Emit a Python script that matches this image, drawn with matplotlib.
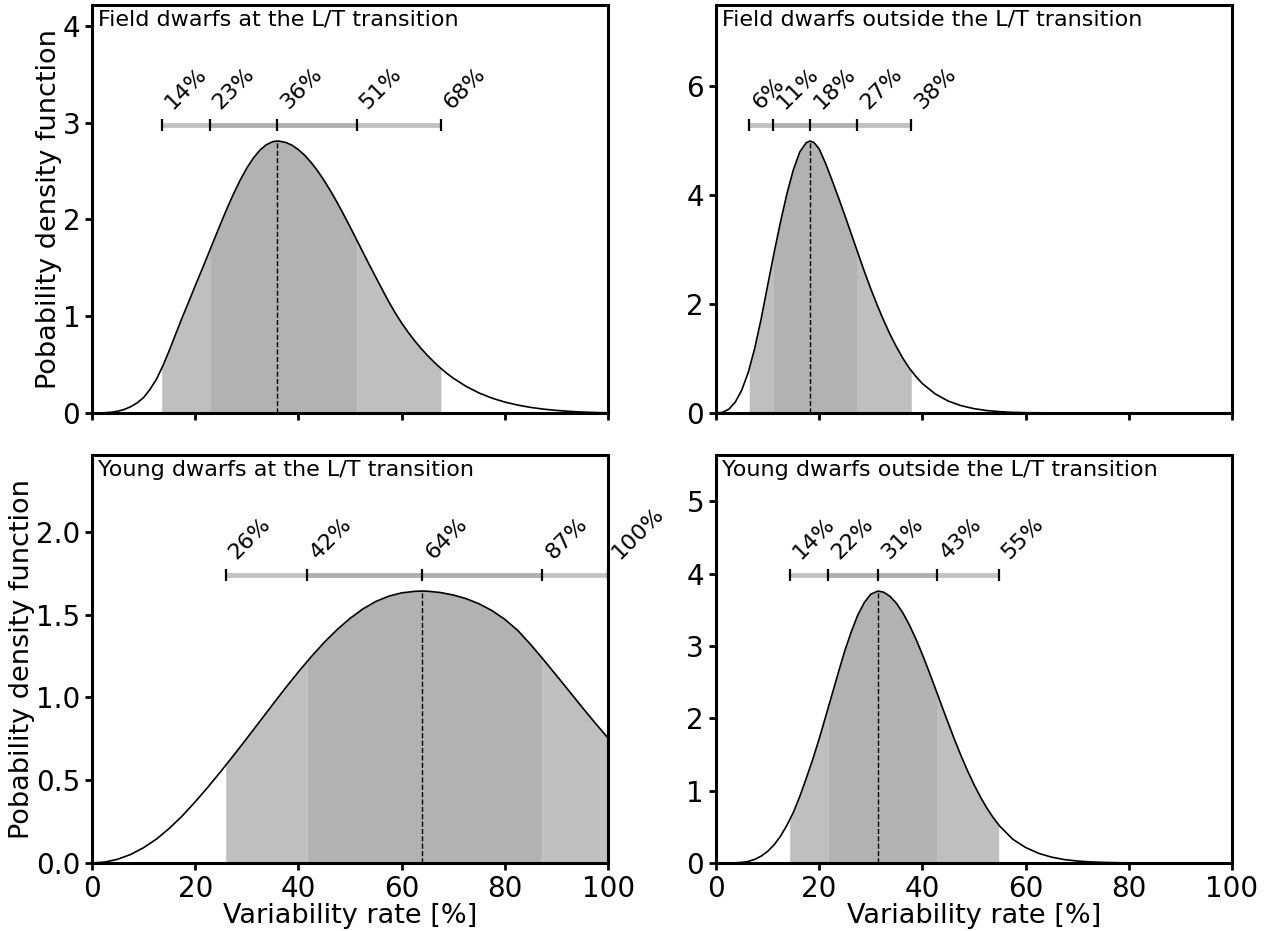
import numpy as np
import matplotlib
matplotlib.use("Agg")
import matplotlib.pyplot as plt
from matplotlib.transforms import offset_copy

# ---------------- data ----------------
titles = ["Field dwarfs at the L/T transition",
          "Field dwarfs outside the L/T transition",
          "Young dwarfs at the L/T transition",
          "Young dwarfs outside the L/T transition"]

# Field dwarfs at the L/T transition
x_fl = [0, 1.25, 2.5, 3.75, 5, 6.25, 7.5, 8.75, 10, 11.25, 12.5, 13.75, 15, 16.25,
        17.5, 18.75, 20, 21.25, 22.5, 23.75, 25, 26.25, 27.5, 28.75, 30, 31.25,
        32.5, 33.75, 35, 35.9, 36.25, 37.5, 38.75, 40, 41.25, 42.5, 43.75, 45,
        46.25, 47.5, 48.75, 50, 51.25, 52.5, 53.75, 55, 56.25, 57.5, 58.75, 60,
        61.25, 62.5, 63.75, 65, 66.25, 67.5, 68.75, 70, 72.5, 75, 77.5, 80, 82.5,
        85, 87.5, 90, 92.5, 95, 97.5, 100]
pdf_fl = [0, 0.0007, 0.003, 0.008, 0.019, 0.037, 0.065, 0.105, 0.16, 0.245, 0.35,
          0.49, 0.65, 0.82, 0.99, 1.15, 1.315, 1.475, 1.638, 1.803, 1.966, 2.124,
          2.273, 2.41, 2.531, 2.633, 2.714, 2.771, 2.803, 2.81, 2.809, 2.796, 2.767,
          2.721, 2.661, 2.586, 2.499, 2.40, 2.292, 2.175, 2.052, 1.924, 1.793, 1.661,
          1.53, 1.402, 1.275, 1.15, 1.035, 0.93, 0.835, 0.748, 0.668, 0.595, 0.528,
          0.466, 0.41, 0.36, 0.275, 0.207, 0.154, 0.113, 0.082, 0.058, 0.04, 0.027,
          0.017, 0.01, 0.005, 0.002]
q_fl = [13.5, 22.8, 35.9, 51.3, 67.6]
lab_fl = ["14%", "23%", "36%", "51%", "68%"]
peak_fl = 2.81

# Field dwarfs outside the L/T transition
x_fo = [0, 1.25, 2.5, 3.75, 5, 6.25, 7.5, 8.75, 10, 11.25, 12.5, 13.75, 15, 16.25,
        17.5, 18.25, 19, 20, 21.25, 22.5, 23.75, 25, 26.25, 27.5, 28.75, 30, 31.25,
        32.5, 33.75, 35, 36.25, 37.5, 38.75, 40, 42.5, 45, 47.5, 50, 52.5, 55, 57.5,
        60, 65, 70, 80, 90, 100]
pdf_fo = [0, 0.012, 0.07, 0.2, 0.42, 0.74, 1.18, 1.72, 2.33, 2.93, 3.50, 4.02, 4.46,
          4.79, 4.96, 4.99, 4.963, 4.846, 4.58, 4.27, 3.95, 3.62, 3.28, 2.94, 2.60,
          2.28, 1.98, 1.70, 1.44, 1.21, 1.00, 0.82, 0.67, 0.54, 0.35, 0.22, 0.135,
          0.08, 0.045, 0.025, 0.012, 0.006, 0.002, 0.0005, 0, 0, 0]
q_fo = [6.45, 11.15, 18.25, 27.4, 37.85]
lab_fo = ["6%", "11%", "18%", "27%", "38%"]
peak_fo = 4.99

# Young dwarfs at the L/T transition
x_yl = [0, 2.5, 5, 7.5, 10, 12.5, 15, 17.5, 20, 22.5, 25, 27.5, 30, 32.5, 35, 37.5,
        40, 42.5, 45, 47.5, 50, 52.5, 55, 57.5, 60, 62.5, 64, 65, 67.5, 70, 72.5, 75,
        77.5, 80, 82.5, 85, 87.5, 90, 92.5, 95, 97.5, 100]
pdf_yl = [0, 0.006, 0.023, 0.052, 0.093, 0.145, 0.21, 0.285, 0.37, 0.46, 0.555,
          0.653, 0.753, 0.855, 0.957, 1.058, 1.155, 1.247, 1.333, 1.41, 1.478, 1.535,
          1.58, 1.612, 1.632, 1.641, 1.643, 1.642, 1.634, 1.619, 1.597, 1.566, 1.525,
          1.472, 1.405, 1.32, 1.228, 1.133, 1.037, 0.94, 0.846, 0.755]
q_yl = [25.9, 41.7, 64.0, 87.2, 100.0]
lab_yl = ["26%", "42%", "64%", "87%", "100%"]
peak_yl = 1.643

# Young dwarfs outside the L/T transition
x_yo = [0, 2.5, 3.75, 5, 6.25, 7.5, 8.75, 10, 11.25, 12.5, 13.75, 15, 16.25, 17.5,
        18.75, 20, 21.25, 22.5, 23.75, 25, 26.25, 27.5, 28.75, 30, 31.4, 32.5, 33.75,
        35, 36.25, 37.5, 38.75, 40, 41.25, 42.5, 43.75, 45, 46.25, 47.5, 48.75, 50,
        51.25, 52.5, 53.75, 55, 57.5, 60, 62.5, 65, 67.5, 70, 72.5, 75, 77.5, 80, 85,
        90, 100]
pdf_yo = [0, 0.001, 0.003, 0.009, 0.022, 0.05, 0.095, 0.16, 0.25, 0.37, 0.52, 0.70,
          0.92, 1.17, 1.43, 1.715, 2.02, 2.33, 2.64, 2.94, 3.20, 3.43, 3.60, 3.716,
          3.76, 3.744, 3.686, 3.589, 3.455, 3.29, 3.097, 2.884, 2.655, 2.417, 2.175,
          1.937, 1.704, 1.483, 1.277, 1.086, 0.914, 0.76, 0.626, 0.51, 0.33, 0.215,
          0.135, 0.082, 0.048, 0.028, 0.016, 0.009, 0.005, 0.003, 0.001, 0, 0]
q_yo = [14.3, 21.7, 31.4, 42.9, 54.8]
lab_yo = ["14%", "22%", "31%", "43%", "55%"]
peak_yo = 3.76

yticks_fl = [0, 1, 2, 3, 4]
yticks_fo = [0, 2, 4, 6]
yticks_yl = [0, 0.5, 1.0, 1.5, 2.0]
yticks_yo = [0, 1, 2, 3, 4, 5]
xticks = [0, 20, 40, 60, 80, 100]

# ---------------- style ----------------
LIGHT = "#bfbfbf"
DARK = "#b2b2b2"
BAR_LIGHT = "#c2c2c2"
BAR_DARK = "#b0b0b0"

fig, axes = plt.subplots(2, 2, figsize=(12.71, 9.31), dpi=100, sharex=True)
fig.subplots_adjust(left=0.0724, right=0.9693, top=0.9946, bottom=0.0730,
                    wspace=0.209, hspace=0.103)


def draw(ax, x, y, q, labels, peak, title, yticks):
    x = np.asarray(x, float)
    y = np.asarray(y, float)
    lo95, lo68, mode, hi68, hi95 = q
    for a, b, c in [(lo95, lo68, LIGHT), (lo68, hi68, DARK), (hi68, hi95, LIGHT)]:
        m = (x > a) & (x < b)
        xs = np.concatenate([[a], x[m], [b]])
        ys = np.interp(xs, x, y)
        ax.fill_between(xs, 0, ys, color=c, lw=0)
    ax.plot(x, y, color="k", lw=1.2, zorder=3)
    ax.plot([mode, mode], [0, np.interp(mode, x, y)], color="k", ls="--",
            lw=1.0, zorder=3)
    yb = 1.06 * peak
    for a, b, c in [(lo95, lo68, BAR_LIGHT), (lo68, mode, BAR_DARK),
                    (mode, hi68, BAR_DARK), (hi68, hi95, BAR_LIGHT)]:
        ax.plot([a, b], [yb, yb], color=c, lw=3.5, solid_capstyle="butt", zorder=3)
    ax.plot(q, [yb] * len(q), ls="none", marker="|", ms=8, mew=1.6, color="k",
            zorder=4, clip_on=False)
    tr = offset_copy(ax.transData, fig=fig, x=11, y=15, units="dots")
    for xv, lab in zip(q, labels):
        ax.text(xv, yb, lab, transform=tr, rotation=45, rotation_mode="anchor",
                ha="left", va="baseline", fontsize=16, clip_on=False)
    ax.text(0.012, 0.988, title, transform=ax.transAxes, ha="left", va="top",
            fontsize=16)
    ax.set_xlim(0, 100)
    ax.set_ylim(0, 1.5 * peak)
    ax.set_yticks(yticks)
    ax.set_xticks(xticks)
    for s in ax.spines.values():
        s.set_linewidth(2.2)
    ax.tick_params(direction="out", length=5, width=2, labelsize=20)


draw(axes[0, 0], x_fl, pdf_fl, q_fl, lab_fl, peak_fl, titles[0], yticks_fl)
draw(axes[0, 1], x_fo, pdf_fo, q_fo, lab_fo, peak_fo, titles[1], yticks_fo)
draw(axes[1, 0], x_yl, pdf_yl, q_yl, lab_yl, peak_yl, titles[2], yticks_yl)
draw(axes[1, 1], x_yo, pdf_yo, q_yo, lab_yo, peak_yo, titles[3], yticks_yo)

for ax in axes[:, 0]:
    ax.set_ylabel("Pobability density function", fontsize=19.5, labelpad=0.5)
for ax in axes[1, :]:
    ax.set_xlabel("Variability rate [%]", fontsize=19.5, labelpad=0)

fig.savefig("out.png", dpi=100)
